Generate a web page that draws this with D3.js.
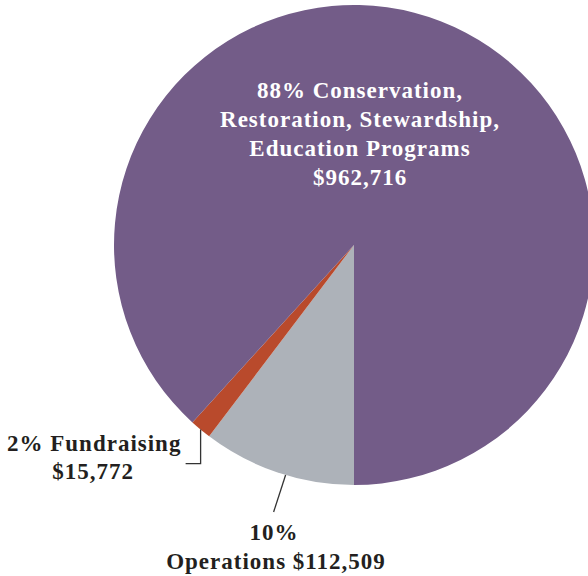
<!DOCTYPE html>
<html>
<head>
<meta charset="utf-8">
<script src="https://cdn.jsdelivr.net/npm/d3@7"></script>
<style>
  body { margin: 0; background: #fff; }
  svg { display: block; }
  text { font-family: "Liberation Serif", "DejaVu Serif", serif; font-weight: bold; letter-spacing: 1px; }
</style>
</head>
<body>
<svg id="chart"></svg>
<script>
// slices, in drawing order starting from 6 o'clock going clockwise
const categories = ['Operations', 'Fundraising', 'Programs']
const amounts = [112509, 15772, 962716]
const colors = ['#adb2b9', '#b94a2c', '#735c88']
const labelLines = [
    ['10%', 'Operations $112,509'],
    ['2% Fundraising', '$15,772'],
    ['88% Conservation,', 'Restoration, Stewardship,', 'Education Programs', '$962,716']
]

const w = 588
const h = 576
const cx = 354
const cy = 245
const r = 240

const svg = d3.select('#chart')
    .attr('width', w)
    .attr('height', h)

const pie = d3.pie()
    .sort(null)
    .value(d => d)
    .startAngle(Math.PI)
    .endAngle(3 * Math.PI)
const arcs = pie(amounts)

const arc = d3.arc()
    .innerRadius(0)
    .outerRadius(r)

const g = svg.append('g')
    .attr('transform', `translate(${cx}, ${cy})`)

g.selectAll('path')
    .data(arcs)
    .join('path')
        .attr('d', arc)
        .attr('fill', (d, i) => colors[i])

// points on the rim for the leader lines
const rimPoint = (a, rr) => [rr * Math.sin(a), -rr * Math.cos(a)]

// operations: short slanted line below the gray slice
const opsMid = (arcs[0].startAngle + arcs[0].endAngle) / 2
const opsA = rimPoint(opsMid - 0.035, r)
g.append('line')
    .attr('x1', opsA[0]).attr('y1', opsA[1])
    .attr('x2', opsA[0] - 12).attr('y2', opsA[1] + 37)
    .attr('stroke', '#333').attr('stroke-width', 1.3)

// fundraising: elbow line from the red slice
const fundMid = (arcs[1].startAngle + arcs[1].endAngle) / 2
const fundA = rimPoint(fundMid, r)
g.append('polyline')
    .attr('points', [
        [fundA[0], fundA[1]],
        [fundA[0], fundA[1] + 34],
        [fundA[0] - 15, fundA[1] + 34]
    ].map(p => p.join(',')).join(' '))
    .attr('fill', 'none')
    .attr('stroke', '#333').attr('stroke-width', 1.3)

const fs = 23
const lh = 29

// big label inside the purple slice
svg.append('text')
    .attr('x', 360).attr('y', 98)
    .attr('text-anchor', 'middle')
    .attr('fill', '#fff')
    .style('font-size', fs + 'px')
    .selectAll('tspan')
    .data(labelLines[2])
    .join('tspan')
        .attr('x', 360)
        .attr('dy', (d, i) => i ? lh : 0)
        .text(d => d)

// fundraising label
const fund = svg.append('text')
    .attr('fill', '#231f20')
    .style('font-size', fs + 'px')
fund.append('tspan').attr('x', 7).attr('y', 451).text(labelLines[1][0])
fund.append('tspan').attr('x', 93).attr('y', 479).attr('text-anchor', 'middle').text(labelLines[1][1])

// operations label
svg.append('text')
    .attr('text-anchor', 'middle')
    .attr('fill', '#231f20')
    .style('font-size', fs + 'px')
    .selectAll('tspan')
    .data(labelLines[0])
    .join('tspan')
        .attr('x', (d, i) => i ? 276 : 274)
        .attr('y', (d, i) => 540 + i * 29)
        .text(d => d)
</script>
</body>
</html>
